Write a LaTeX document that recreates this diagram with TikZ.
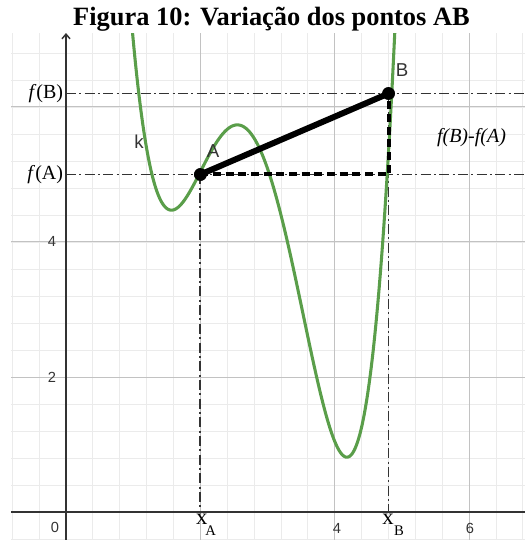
\documentclass[tikz,border=0pt]{standalone}
\usepackage{fontspec}
\setmainfont{Liberation Serif}
\newfontfamily\ggbsans{Liberation Sans}
\usetikzlibrary{arrows.meta,positioning,calc}
\definecolor{ggGrid}{HTML}{EBEBEB}
\definecolor{ggMajor}{HTML}{C2C2C2}
\definecolor{ggAxis}{HTML}{333333}
\definecolor{ggCurve}{HTML}{5A9E4A}
\definecolor{ggText}{HTML}{333333}
\tikzset{
  gg/.style={x=50.4pt, y=50.625pt, >={Straight Barb[length=3.5pt, width=6pt]}},
  gridminor/.style={draw=ggGrid, line width=.75pt},
  gridmajor/.style={draw=ggMajor, line width=.75pt},
  axisline/.style={draw=ggAxis, line width=1.1pt},
  graphk/.style={draw=ggCurve, line width=2.3pt},
  guide/.style={draw=ggAxis, line width=1.4pt, dash pattern=on 7.5pt off 2.5pt on 1.5pt off 2.5pt},
  legs/.style={draw=black, line width=3pt, dash pattern=on 6pt off 3.5pt},
  chord/.style={draw=black, line width=4.5pt},
  ptdot/.style={circle, fill=black, inner sep=0pt, minimum size=9.5pt},
  ptlbl/.style={font=\ggbsans\fontsize{14}{14}\selectfont, text=ggText, inner sep=0pt},
  ticklbl/.style={font=\ggbsans\fontsize{11}{11}\selectfont, text=ggText, inner sep=0pt},
  flbl/.style={font=\fontsize{15}{15}\selectfont, inner sep=0pt},
  xlbl/.style={font=\fontsize{17}{17}\selectfont, inner sep=0pt},
  sublbl/.style={font=\fontsize{11}{11}\selectfont, inner sep=0pt},
}

\begin{document}
\begin{tikzpicture}[gg, declare function={fk(\x)=0.95*(\x^4-11.06667*\x^3+42.4502*\x^2-66.9385*\x)+39.82;}]
\useasboundingbox (-0.9821,-0.4148) rectangle (6.8304,7.5852);

% grid
\begin{scope}
\clip (-0.818,-0.4148) rectangle (6.8304,7.096);
\foreach \i in {-2,...,17} \draw[gridminor] (0.4*\i,-0.5) -- (0.4*\i,7.2);
\foreach \j in {-1,...,17} \draw[gridminor] (-0.9,0.4*\j) -- (6.9,0.4*\j);
\foreach \k in {2,4,6} {
  \draw[gridmajor] (\k,-0.5) -- (\k,7.2);
  \draw[gridmajor] (-0.9,\k) -- (6.9,\k);
}
\end{scope}
\draw[axisline] (-0.818,0) -- (6.8304,0);
\draw[axisline, ->] (0,-0.4148) -- (0,7.096);

\node[font=\bfseries\fontsize{19.8}{20}\selectfont, anchor=base] (title) at (3.058,7.2) {Figura 10: Variação dos pontos AB};

% points and helpers
\node[ptdot] (A) at (2,5) {};
\node[ptdot] (B) at (4.8,6.2) {};
\coordinate (C) at (4.8,5);
\coordinate (xa) at (2,0);
\coordinate (xb) at (4.8,0);
\coordinate (fa) at (0,5);
\coordinate (fb) at (0,6.2);
\coordinate (faR) at (6.8304,5);
\coordinate (fbR) at (6.8304,6.2);

\draw[guide] (fa) -- (faR);
\draw[guide] (fb) -- (fbR);
\draw[guide] (A.center) -- (xa);
\draw[guide] (B.center) -- (xb);

\begin{scope}
\clip (-0.818,-0.4148) rectangle (6.8304,7.096);
\draw[graphk] plot[domain=0.9:4.92, samples=250, smooth] (\x,{fk(\x)});
\end{scope}

\draw[legs] (A.center) -- (C) -- (B.center);
\draw[chord] (A.center) -- (B.center);
\node[ptdot] at (A) {};
\node[ptdot] at (B) {};

% labels
\node[ptlbl] (labA) at ([shift={(0.19,0.34)}]A) {A};
\node[ptlbl] (labB) at ([shift={(0.2,0.35)}]B) {B};
\node[ptlbl] (labk) at (1.086,5.48) {k};
\node[flbl, anchor=east] (lfa) at ([xshift=-2pt]fa) {\textit{f}(A)};
\node[flbl, anchor=east] (lfb) at ([xshift=-2pt]fb) {\textit{f}(B)};
\node[flbl] (diff) at (6.034,5.548) {\textit{f(B)-f(A)}};

\node[ticklbl] (t0) at (-0.164,-0.222) {0};
\node[ticklbl] (t4) at (4.033,-0.237) {4};
\node[ticklbl] (t6) at (6.012,-0.237) {6};
\node[ticklbl] (u4) at (-0.208,4.015) {4};
\node[ticklbl] (u2) at (-0.208,2.0) {2};

\node[xlbl] (lxa) at (2.019,-0.105) {x};
\node[sublbl] (lxaS) at (2.153,-0.281) {A};
\node[xlbl] (lxb) at (4.792,-0.105) {x};
\node[sublbl] (lxbS) at (4.955,-0.281) {B};
\end{tikzpicture}
\end{document}
